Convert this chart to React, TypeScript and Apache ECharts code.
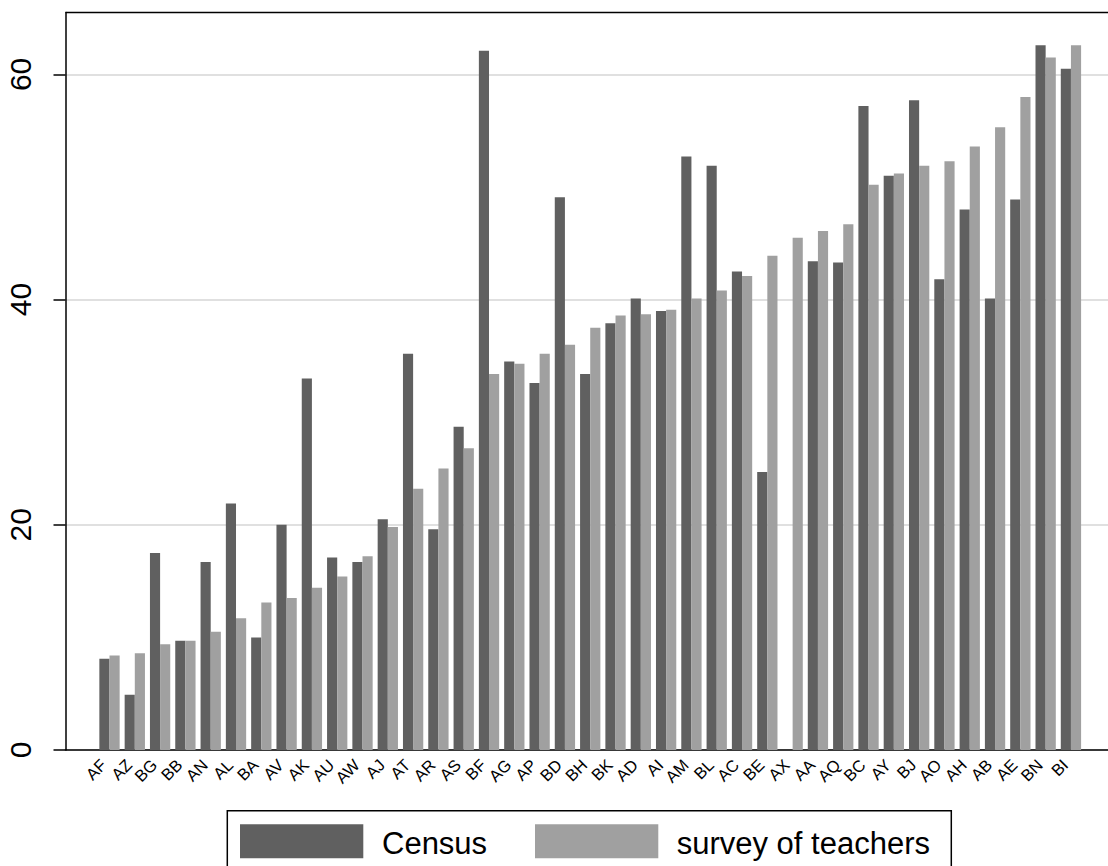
import React, { useEffect, useRef } from "react";
import * as echarts from "echarts";

const categories = ["AF","AZ","BG","BB","AN","AL","BA","AV","AK","AU","AW","AJ","AT","AR","AS","BF","AG","AP","BD","BH","BK","AD","AI","AM","BL","AC","BE","AX","AA","AQ","BC","AY","BJ","AO","AH","AB","AE","BN","BI"];
const census: (number | null)[] = [8.1,4.9,17.5,9.7,16.7,21.9,10.0,20.0,33.0,17.1,16.7,20.5,35.2,19.6,28.7,62.1,34.5,32.6,49.1,33.4,37.9,40.1,39.0,52.7,51.9,42.5,24.7,null,43.4,43.3,57.2,51.0,57.7,41.8,48.0,40.1,48.9,62.6,60.5];
const survey: number[] = [8.4,8.6,9.4,9.7,10.5,11.7,13.1,13.5,14.4,15.4,17.2,19.8,23.2,25.0,26.8,33.4,34.3,35.2,36.0,37.5,38.6,38.7,39.1,40.1,40.8,42.1,43.9,45.5,46.1,46.7,50.2,51.2,51.9,52.3,53.6,55.3,58.0,61.5,62.6];
const yTicks = [0, 20, 40, 60];
const seriesNames = ["Census", "survey of teachers"];

const FONT = "'Liberation Sans', Arial, Helvetica, sans-serif";
const C1 = "#606060";
const C2 = "#a0a0a0";

export default function App() {
  const ref = useRef<HTMLDivElement>(null);
  useEffect(() => {
    if (!ref.current) return;
    const chart = echarts.init(ref.current, null, { renderer: "svg" });
    const yMax = 65.5;
    const top = 12.5;
    const bottom = 866 - 750;
    const baseGraphic: any[] = [
      {
        type: "line",
        z: 100,
        shape: { x1: 65.5, y1: top, x2: 1108, y2: top },
        style: { stroke: "#000", lineWidth: 1.5 },
      },
      {
        type: "rect",
        z: 100,
        shape: { x: 227.3, y: 810.7, width: 724, height: 70 },
        style: { fill: "#fff", stroke: "#000", lineWidth: 1.5 },
      },
      {
        type: "rect",
        z: 101,
        shape: { x: 240, y: 824.3, width: 123.3, height: 34 },
        style: { fill: C1 },
      },
      {
        type: "text",
        z: 101,
        x: 382,
        y: 843.5,
        style: { text: seriesNames[0], font: `31px ${FONT}`, fill: "#000", verticalAlign: "middle" },
      },
      {
        type: "rect",
        z: 101,
        shape: { x: 535, y: 824.3, width: 123.3, height: 34 },
        style: { fill: C2 },
      },
      {
        type: "text",
        z: 101,
        x: 676.7,
        y: 843.5,
        style: { text: seriesNames[1], font: `31px ${FONT}`, fill: "#000", verticalAlign: "middle" },
      },
    ];
    chart.setOption({
      animation: false,
      backgroundColor: "#ffffff",
      grid: [
        { left: 65.5, right: 0, top, bottom, containLabel: false, outerBoundsMode: "none" },
        { left: 96.85, right: 24.4, top, bottom, containLabel: false, outerBoundsMode: "none" },
      ],
      xAxis: [
        {
          gridIndex: 0,
          type: "value",
          min: 0,
          max: 1,
          axisLine: { show: true, onZero: false, lineStyle: { color: "#000", width: 1.5 } },
          axisTick: { show: false },
          axisLabel: { show: false },
          splitLine: { show: false },
        },
        {
          gridIndex: 1,
          type: "category",
          data: categories,
          axisLine: { show: false },
          axisTick: { show: false },
          axisLabel: { show: false },
        },
      ],
      yAxis: [
        {
          gridIndex: 0,
          type: "value",
          min: 0,
          max: yMax,
          interval: 20,
          axisLine: { show: true, lineStyle: { color: "#000", width: 1.5 } },
          axisTick: { show: true, length: 12, lineStyle: { color: "#000", width: 1.5 }, customValues: yTicks },
          axisLabel: {
            rotate: 90,
            fontSize: 30,
            fontFamily: FONT,
            color: "#000",
            margin: 30,
            customValues: yTicks,
          },
          splitLine: { show: true, lineStyle: { color: "#e0e0e0", width: 2 } },
        },
        {
          gridIndex: 1,
          type: "value",
          min: 0,
          max: yMax,
          show: false,
          splitLine: { show: false },
        },
      ],
      series: [
        {
          name: seriesNames[0],
          type: "bar",
          xAxisIndex: 1,
          yAxisIndex: 1,
          data: census,
          barWidth: 10.15,
          barGap: "0%",
          itemStyle: { color: C1 },
        },
        {
          name: seriesNames[1],
          type: "bar",
          xAxisIndex: 1,
          yAxisIndex: 1,
          data: survey,
          barWidth: 10.15,
          barGap: "0%",
          itemStyle: { color: C2 },
        },
      ],
      graphic: baseGraphic,
    });

    const labelEls = categories.map((c) => {
      const px = chart.convertToPixel({ xAxisIndex: 1 }, c) as number;
      const y0 = chart.convertToPixel({ yAxisIndex: 1 }, 0) as number;
      return {
        type: "text",
        z: 50,
        x: px - 6,
        y: y0 + 12,
        rotation: Math.PI / 4,
        style: {
          text: c,
          font: `16.5px ${FONT}`,
          fill: "#000",
          align: "right",
          verticalAlign: "middle",
        },
      };
    });
    chart.setOption({ graphic: [...baseGraphic, ...labelEls] });

    return () => chart.dispose();
  }, []);
  return (
    <div
      ref={ref}
      style={{ position: "absolute", left: 0, top: 0, width: 1108, height: 866 }}
    />
  );
}
